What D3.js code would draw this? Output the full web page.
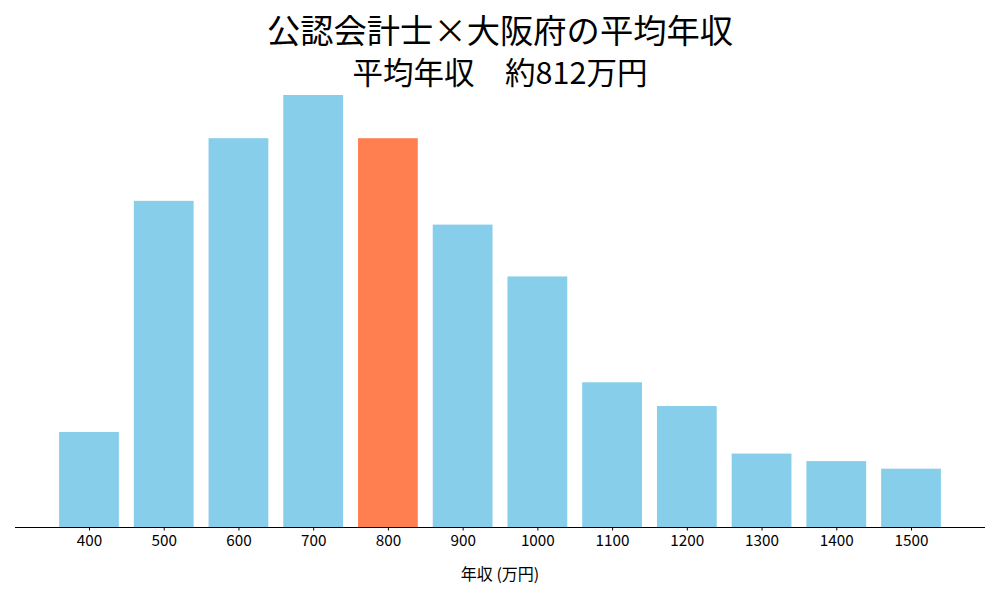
<!DOCTYPE html>
<html><head><meta charset="utf-8">
<script src="https://cdn.jsdelivr.net/npm/d3@7"></script>
<style>body{margin:0;background:#fff}svg text{font-family:"Noto Sans CJK JP","Noto Sans",sans-serif}</style>
</head><body><svg id="c" width="1000" height="600"></svg>
<script>
const categories = ["400","500","600","700","800","900","1000","1100","1200","1300","1400","1500"];
const values = [4.4, 15.1, 18.0, 20.0, 18.0, 14.0, 11.6, 6.7, 5.6, 3.4, 3.05, 2.7];
const highlight = "800";
const titleText = "公認会計士×大阪府の平均年収";
const subtitleText = "平均年収　約812万円";
const xLabel = "年収 (万円)";

const svg = d3.select("#c");
const left = 15, right = 985, base = 527;
const maxV = d3.max(values);
const y = d3.scaleLinear().domain([0, maxV * 1.05]).range([base, base - 432 * 1.05]);
const n = categories.length;
const lo = -0.4 - 0.05 * (n - 1 + 0.8), hi = n - 1 + 0.4 + 0.05 * (n - 1 + 0.8);
const xl = d3.scaleLinear().domain([lo, hi]).range([left, right]);

svg.selectAll("rect.bar").data(categories).enter().append("rect")
  .attr("class","bar")
  .attr("x", (d,i) => xl(i - 0.4))
  .attr("width", (d,i) => xl(i + 0.4) - xl(i - 0.4))
  .attr("y", (d,i) => y(values[i]))
  .attr("height", (d,i) => base - y(values[i]))
  .attr("fill", d => d === highlight ? "#FF7F50" : "#87CEEB");

const axis = d3.axisBottom(xl).tickValues(d3.range(n)).tickFormat(i => categories[i]).tickSize(3.5).tickPadding(5).tickSizeOuter(0);
const g = svg.append("g").attr("transform", `translate(0,${base})`).call(axis);
g.select(".domain").attr("d", `M${left},0.5H${right}`).attr("stroke","#000").attr("stroke-width",1);
g.selectAll(".tick line").attr("stroke","#000").attr("stroke-width",1);
g.selectAll(".tick text").attr("font-size", 15.3).attr("fill","#000")
  .style("font-family", '"Noto Sans CJK JP",sans-serif');

svg.append("text").attr("x", 500).attr("y", 580).attr("text-anchor","middle")
  .attr("font-size", 16).attr("fill","#000").text(xLabel);
svg.append("text").attr("x", 500).attr("y", 43).attr("text-anchor","middle")
  .attr("font-size", 33.3).attr("fill","#000").text(titleText);
svg.append("text").attr("x", 500).attr("y", 84).attr("text-anchor","middle")
  .attr("font-size", 30.5).attr("fill","#000").text(subtitleText);
</script></body></html>
